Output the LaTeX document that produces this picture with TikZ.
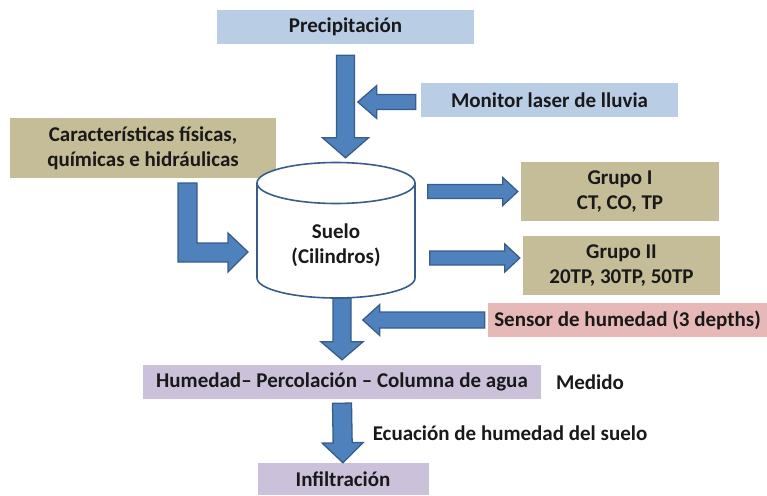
\documentclass[tikz,border=0pt]{standalone}
\usepackage{fontspec}
\setmainfont{Carlito}
\usetikzlibrary{calc}
\definecolor{boxblue}{HTML}{B9CDE5}
\definecolor{boxtan}{HTML}{C4BD97}
\definecolor{boxpink}{HTML}{E6B9B8}
\definecolor{boxlila}{HTML}{CCC1DA}
\definecolor{arrowfill}{HTML}{4F81BD}
\definecolor{arrowline}{HTML}{385D8A}
\tikzset{
  txt/.style={font=\bfseries\fontsize{21}{25}\selectfont, text=black!90, align=center, inner sep=0pt},
  box/.style n args={3}{txt, fill=#1, minimum width=#2, minimum height=#3},
  blockarrow/.style n args={3}{fill=arrowfill, draw=arrowline, line width=1.3pt, line join=miter,
    to path={let \p1=($(\tikztotarget)-(\tikztostart)$), \n1={atan2(\y1,\x1)} in
      ($(\tikztostart)+(\n1+90:#1)$)
      -- ($(\tikztotarget)+(\n1+180:#3)+(\n1+90:#1)$)
      -- ($(\tikztotarget)+(\n1+180:#3)+(\n1+90:#2)$)
      -- (\tikztotarget)
      -- ($(\tikztotarget)+(\n1+180:#3)+(\n1-90:#2)$)
      -- ($(\tikztotarget)+(\n1+180:#3)+(\n1-90:#1)$)
      -- ($(\tikztostart)+(\n1-90:#1)$) -- cycle}},
}
\begin{document}
\begin{tikzpicture}[x=1pt,y=-1pt]
	\useasboundingbox (0,0) rectangle (767,495);

	% the boxes
	\node[box={boxblue}{257pt}{34pt}] (precip) at (345.5,27) {Precipitación};
	\node[box={boxblue}{257pt}{34pt}] (monitor) at (549.5,100) {Monitor laser de lluvia};
	\node[box={boxtan}{266pt}{60pt}] (carac) at (143,148) {Características físicas,\\químicas e hidráulicas};
	\node[box={boxtan}{198pt}{59pt}] (grupo1) at (620,191.5) {Grupo I\\CT, CO, TP};
	\node[box={boxtan}{197pt}{59pt}] (grupo2) at (621.5,265.5) {Grupo II\\20TP, 30TP, 50TP};
	\node[box={boxpink}{279pt}{34pt}] (sensor) at (627.5,320) {Sensor de humedad (3 depths)};
	\node[box={boxlila}{398pt}{34pt}] (humedad) at (342,382) {Humedad-- Percolación -- Columna de agua};
	\node[box={boxlila}{171pt}{32pt}] (infil) at (343,479) {Infiltración};

	% the soil cylinder
	\node[minimum width=158pt, minimum height=136pt, inner sep=0pt] (suelo) at (336,230) {};
	\draw[arrowline, line width=1.6pt, fill=white] (257,183) -- (257,278)
		arc[start angle=180, end angle=360, x radius=79pt, y radius=20pt] -- (415,183);
	\draw[arrowline, line width=1.6pt, fill=white] (336,183) ellipse[x radius=79pt, y radius=20.5pt];
	\node[txt] (suelotxt) at (336,245) {Suelo\\(Cilindros)};

	% the loose texts
	\node[txt] (medido) at (590,382) {Medido};
	\node[txt] (ecuacion) at (510,433) {Ecuación de humedad del suelo};

	% draw the arrows
	\draw[blockarrow={9pt}{23pt}{20pt}] ([yshift=-11pt]precip.south) to ([yshift=4pt]precip.south |- suelo.north);
	\draw[blockarrow={7.5pt}{16.5pt}{19pt}] ([xshift=-5pt,yshift=-2pt]monitor.west) to ([xshift=-63pt,yshift=-2pt]monitor.west);
	\draw[blockarrow={7pt}{14pt}{15pt}] ([xshift=-93pt]grupo1.west) to ([xshift=-3pt]grupo1.west);
	\draw[blockarrow={7pt}{14pt}{15pt}] ([xshift=-93pt,yshift=7.5pt]grupo2.west) to ([xshift=-3pt,yshift=7.5pt]grupo2.west);
	\draw[blockarrow={9pt}{21pt}{18pt}] (humedad.north |- suelo.south) to ([yshift=5pt]humedad.north);
	\draw[blockarrow={8pt}{15.5pt}{17pt}] ([xshift=-3pt]sensor.west) to ([xshift=-125pt]sensor.west);
	\draw[blockarrow={9.5pt}{20.5pt}{20pt}] ([yshift=-4pt]humedad.south) to (infil.north);
	% the bent arrow from the soil properties
	\draw[fill=arrowfill, draw=arrowline, line width=1.3pt] (178,183) -- (178,262) -- (228,262) -- (228,272)
		-- (248,252) -- (228,233) -- (228,243) -- (197,243) -- (197,183) -- cycle;

\end{tikzpicture}
\end{document}
